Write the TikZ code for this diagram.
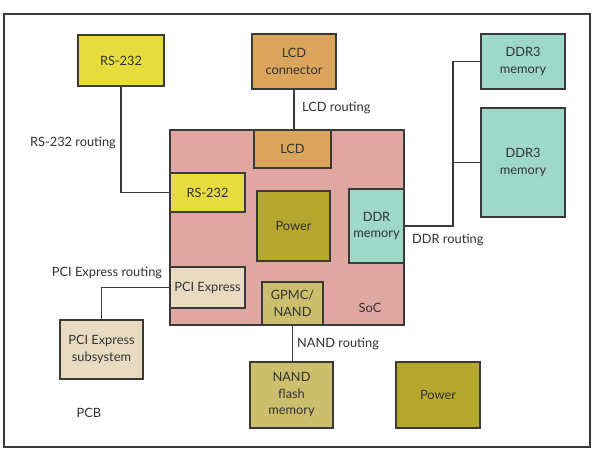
\documentclass[tikz,border=0pt]{standalone}
\usepackage{fontspec}
\setmainfont{Lato}
\begin{document}
\begin{tikzpicture}[x=1pt,y=-1pt,
  box/.style={draw=linec, line width=1.2pt, inner sep=1pt, align=center, text=textc, font=\fontsize{12.8}{16.5}\selectfont},
  lbl/.style={text=textc, inner sep=0pt, font=\fontsize{12.8}{15}\selectfont},
  wire/.style={draw=linec, line width=1.2pt}]
\definecolor{linec}{HTML}{3A3A3A}
\definecolor{textc}{HTML}{333333}
\definecolor{yel}{HTML}{E6DC3E}
\definecolor{lcdo}{HTML}{DCA55C}
\definecolor{socp}{HTML}{E0A7A2}
\definecolor{olive}{HTML}{B6A82C}
\definecolor{teal}{HTML}{9DD8C8}
\definecolor{beige}{HTML}{E9DAC2}
\definecolor{khaki}{HTML}{CBBE6C}
\useasboundingbox (0,0) rectangle (595,461);
\fill[white] (0,0) rectangle (595,461);
\node[draw=linec, line width=1.2pt, minimum width=586pt, minimum height=433pt, inner sep=0pt] (pcb) at (297,230.5) {};
% SoC
\node[box, fill=socp, minimum width=234pt, minimum height=195pt] (soc) at (287,227.5) {};
\node[box, fill=lcdo, minimum width=77pt, minimum height=38pt] (lcd) at (292.5,149) {LCD};
\node[box, fill=yel, minimum width=75pt, minimum height=39pt] (rsi) at (207.5,192.5) {RS-232};
\node[box, fill=olive, minimum width=73pt, minimum height=70pt] (pow) at (293.5,226) {Power};
\node[box, fill=teal, minimum width=55pt, minimum height=74pt] (ddr) at (376.5,226) {DDR\\memory};
\node[box, fill=beige, minimum width=75pt, minimum height=41pt] (pcie) at (207.5,287.5) {PCI Express};
\node[box, fill=khaki, minimum width=61pt, minimum height=43pt] (gpmc) at (292.5,303.5) {GPMC/\\NAND};
% external
\node[box, fill=yel, minimum width=86pt, minimum height=51pt] (rs) at (121,60.5) {RS-232};
\node[box, fill=lcdo, minimum width=84pt, minimum height=55pt] (lcdc) at (294,61.5) {LCD\\connector};
\node[box, fill=teal, minimum width=84pt, minimum height=55pt] (ddra) at (523,61.5) {DDR3\\memory};
\node[box, fill=teal, minimum width=84pt, minimum height=109pt] (ddrb) at (523,162.5) {DDR3\\memory};
\node[box, fill=beige, minimum width=83pt, minimum height=59pt] (pcis) at (101.5,349.5) {PCI Express\\subsystem};
\node[box, fill=khaki, minimum width=83pt, minimum height=66pt] (nand) at (291.5,395) {NAND\\flash\\memory};
\node[box, fill=olive, minimum width=84pt, minimum height=66pt] (pow2) at (438,395) {Power};
% wires
\coordinate (bx) at (453,0);
\draw[wire] (rs.south) |- (rsi.west);
\draw[wire] (lcdc.south) -- (lcdc.south |- lcd.north);
\draw[wire] (ddr.east) -| (bx |- ddra.west) -- (ddra.west);
\draw[wire] (bx |- ddrb.west) -- (ddrb.west);
\draw[wire] (pcie.west) -| (pcis.north);
\draw[wire] (gpmc.south) -- (gpmc.south |- nand.north);
% labels
\node[lbl] (l1) at (73,143) {RS-232 routing};
\node[lbl, anchor=west] (l2) at (302,108) {LCD routing};
\node[lbl, anchor=west] (l3) at (412,240) {DDR routing};
\node[lbl] (l4) at (107,273) {PCI Express routing};
\node[lbl, anchor=west] (l5) at (297,344) {NAND routing};
\node[lbl] (l6) at (370,308) {SoC};
\node[lbl] (l7) at (89,413) {PCB};
\end{tikzpicture}
\end{document}
